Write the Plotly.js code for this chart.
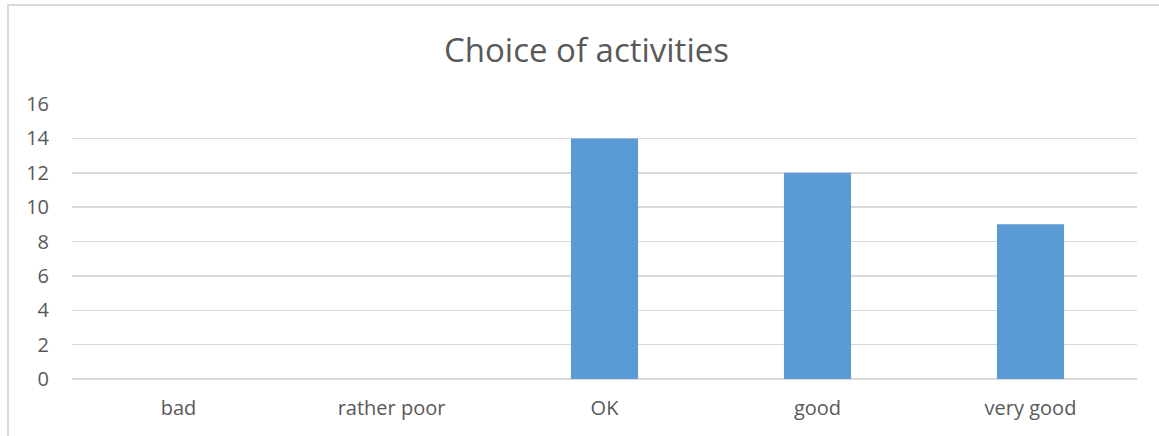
<!DOCTYPE html>
<html>
<head>
<meta charset="utf-8">
<script src="https://cdn.plot.ly/plotly-3.0.1.min.js"></script>
<style>
  html, body { margin: 0; padding: 0; background: #fff; overflow: hidden; }
  #frame { position: absolute; left: 7px; top: 4px; width: 1160px; height: 450px;
           border-left: 2px solid #d9d9d9; border-top: 2px solid #d9d9d9; box-sizing: border-box; }
  #chart { position: absolute; left: 0; top: 0; width: 1159px; height: 436px; }
</style>
</head>
<body>
<div id="frame"></div>
<div id="chart"></div>
<script>
const categories = ["bad", "rather poor", "OK", "good", "very good"];
const values = [0, 0, 14, 12, 9];
const yTicks = [0, 2, 4, 6, 8, 10, 12, 14, 16];
const titleText = "Choice of activities";

const font = "'Open Sans', 'Noto Sans', sans-serif";
const data = [{
  type: "bar",
  x: categories,
  y: values,
  marker: { color: "#5b9bd5" },
  width: 0.315,
  hoverinfo: "x+y"
}];
const layout = {
  width: 1159, height: 436,
  margin: { l: 72, r: 22, t: 104, b: 57 },
  paper_bgcolor: "rgba(0,0,0,0)",
  plot_bgcolor: "rgba(0,0,0,0)",
  showlegend: false,
  title: {
    text: titleText,
    font: { family: font, size: 33, color: "#595959" },
    x: 0.506, xanchor: "center",
    y: 0.885, yanchor: "middle"
  },
  xaxis: {
    type: "category",
    showgrid: false, showline: false, zeroline: false,
    ticks: "",
    ticklabelstandoff: 15,
    tickfont: { family: font, size: 20, color: "#595959" }
  },
  yaxis: {
    range: [0, 16],
    tickvals: yTicks,
    ticktext: yTicks.map(String),
    showgrid: true, gridcolor: "#d9d9d9", gridwidth: 1.5,
    zeroline: true, zerolinecolor: "#d9d9d9", zerolinewidth: 1.5,
    showline: false, ticks: "",
    ticklabelstandoff: 22,
    tickfont: { family: font, size: 20, color: "#595959" }
  }
};
Plotly.newPlot("chart", data, layout, { displayModeBar: false, staticPlot: true });
</script>
</body>
</html>
